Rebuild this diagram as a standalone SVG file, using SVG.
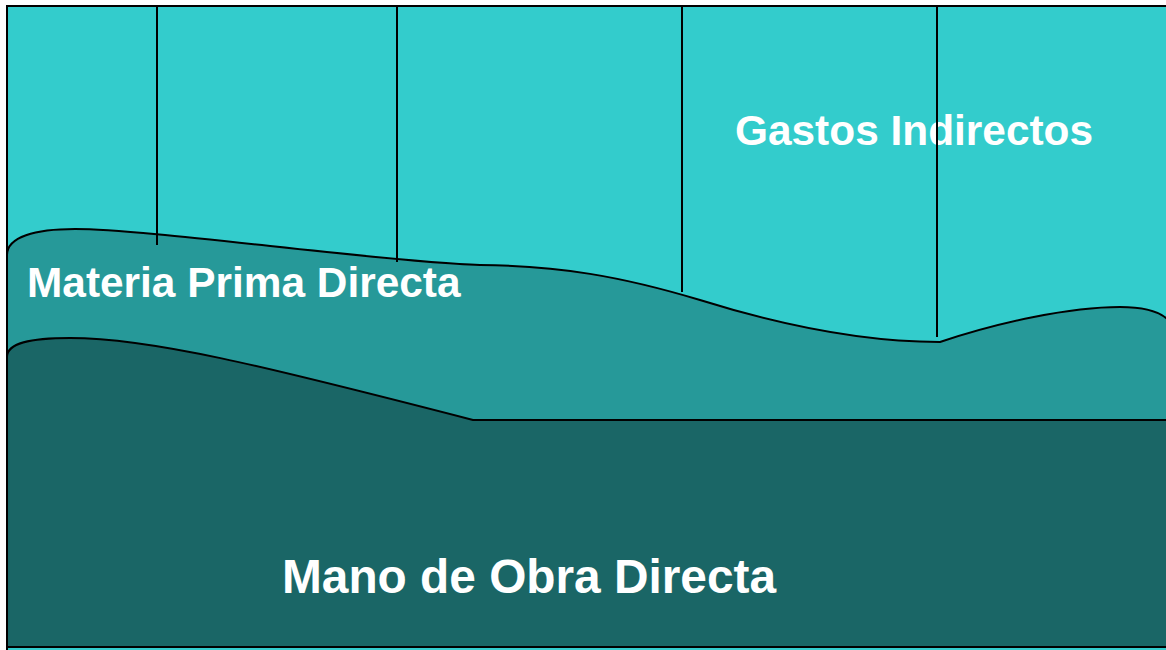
<svg xmlns="http://www.w3.org/2000/svg" width="1166" height="650" viewBox="0 0 1166 650">
<style>
.edge{fill:none;stroke:#000;stroke-width:2}
.lbl{font-family:"Liberation Sans",Arial,sans-serif;font-weight:bold;fill:#fff}
</style>
<rect x="0" y="0" width="1166" height="650" fill="#fff"/>
<g id="gastos">
<rect x="7" y="6" width="1170" height="650" fill="#33CCCC" stroke="#000" stroke-width="2"/>
<text class="lbl" x="735" y="145" font-size="42.4">Gastos Indirectos</text>
</g>
<g id="materia">
<path d="M7,255 C7,237 35,229 75,229 C150,229 380,262 480,265 C560,266 620,276 700,300 C780,325 860,342 940,342 C1000,322 1070,307 1120,307 C1145,307 1162,312 1170,322 L1170,420 L7,420 Z" fill="#269999" stroke="#000" stroke-width="2"/>
<text class="lbl" x="27" y="297" font-size="42.4">Materia Prima Directa</text>
</g>
<g id="connectors">
<line class="edge" x1="157" y1="6" x2="157" y2="245"/>
<line class="edge" x1="397" y1="6" x2="397" y2="262"/>
<line class="edge" x1="682" y1="6" x2="682" y2="292"/>
<line class="edge" x1="937" y1="6" x2="937" y2="337"/>
</g>
<g id="mano">
<path d="M7,357 C7,343 30,338 70,338 C150,338 260,365 473,420 L1170,420 L1170,647 L7,647 Z" fill="#1A6666" stroke="#000" stroke-width="2"/>
<text class="lbl" x="282" y="593" font-size="47.8">Mano de Obra Directa</text>
</g>
</svg>
